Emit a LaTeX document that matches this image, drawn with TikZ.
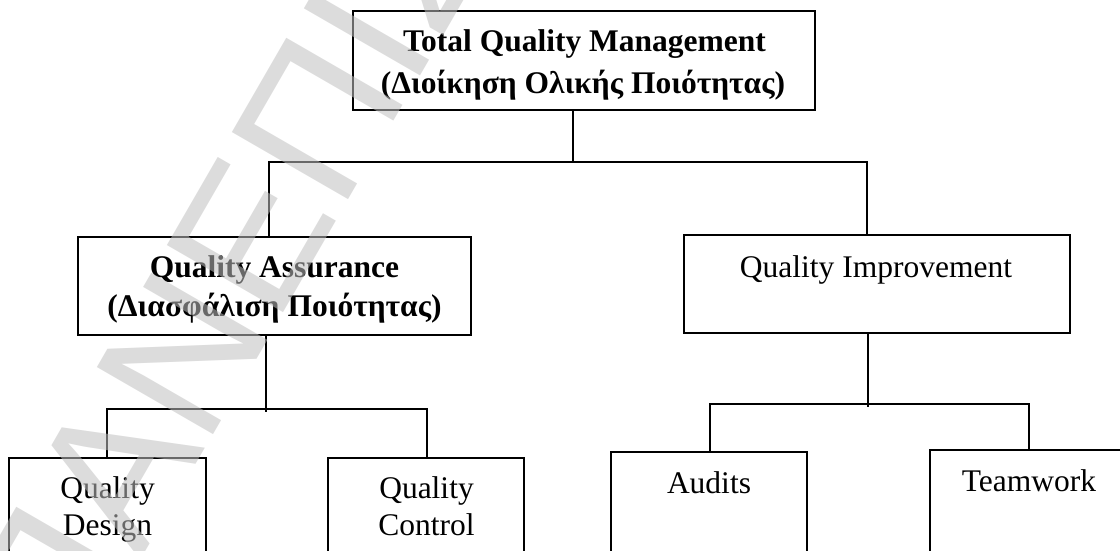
\documentclass[tikz,border=0pt]{standalone}
\usepackage{fontspec}
\setmainfont{Liberation Serif}
\newfontfamily\wmfont{Liberation Sans}
\begin{document}
\begin{tikzpicture}[x=1pt,y=-1pt,
  box/.style={draw, line width=1.8pt, inner sep=0pt, outer sep=0pt},
  lbl/.style={anchor=base, inner sep=0pt, font=\fontsize{31.5}{36}\selectfont},
  blbl/.style={anchor=base, inner sep=0pt, font=\bfseries\fontsize{31.5}{36}\selectfont},
  wire/.style={line width=1.8pt, line join=miter},
]
\useasboundingbox (0,0) rectangle (1120,551);
\clip (0,0) rectangle (1120,551);

% boxes of the hierarchy
\node[box, minimum width=462pt, minimum height=99pt]  (tqm) at (584,60.5) {};
\node[box, minimum width=393pt, minimum height=98pt]  (qa)  at (274.5,286) {};
\node[box, minimum width=386pt, minimum height=98pt]  (qi)  at (877,284) {};
\node[box, minimum width=197pt, minimum height=182pt] (qd)  at (107.5,549) {};
\node[box, minimum width=196pt, minimum height=182pt] (qc)  at (426,549) {};
\node[box, minimum width=196pt, minimum height=188pt] (au)  at (709,546) {};
\node[box, minimum width=198pt, minimum height=190pt] (tw)  at (1029,545) {};

% labels
\node[blbl] (tqm-a) at (584.5,52) {Total Quality Management};
\node[blbl] (tqm-b) at (583,94) {(Διοίκηση Ολικής Ποιότητας)};
\node[blbl] (qa-a)  at (274.5,277) {Quality Assurance};
\node[blbl] (qa-b)  at (274.5,316) {(Διασφάλιση Ποιότητας)};
\node[lbl]  (qi-a)  at (876,277) {Quality Improvement};
\node[lbl]  (qd-a)  at (107.5,498) {Quality};
\node[lbl]  (qd-b)  at (107.5,535) {Design};
\node[lbl]  (qc-a)  at (426.5,498) {Quality};
\node[lbl]  (qc-b)  at (426.5,535) {Control};
\node[lbl]  (au-a)  at (709,493) {Audits};
\node[lbl]  (tw-a)  at (1029,491) {Teamwork};

% junction points of the connectors
\coordinate (t0) at (573,162);
\coordinate (t1) at (269,162);
\coordinate (t2) at (867,162);
\coordinate (a0) at (266,409);
\coordinate (a1) at (107,409);
\coordinate (a2) at (427,409);
\coordinate (i0) at (868,404);
\coordinate (i1) at (710,404);
\coordinate (i2) at (1029,404);

% connectors
\draw[wire] (tqm.south -| t0) -- (t0);
\draw[wire] (t1 |- qa.north) -- (t1) -- (t2) -- (t2 |- qi.north);
\draw[wire, shorten >=-3pt] (qa.south -| a0) -- (a0);
\draw[wire] (a1 |- qd.north) -- (a1) -- (a2) -- (a2 |- qc.north);
\draw[wire, shorten >=-3pt] (qi.south -| i0) -- (i0);
\draw[wire] (i1 |- au.north) -- (i1) -- (i2) -- (i2 |- tw.north);

% watermark across the page
\node[rotate=60, anchor=base west, inner sep=0pt, text=black!25, text opacity=0.55,
      font=\wmfont\fontsize{195}{195}\selectfont] (wm) at (70,683) {ΠΑΝΕΠΙΣΤΗΜΙΟ};
\end{tikzpicture}
\end{document}
